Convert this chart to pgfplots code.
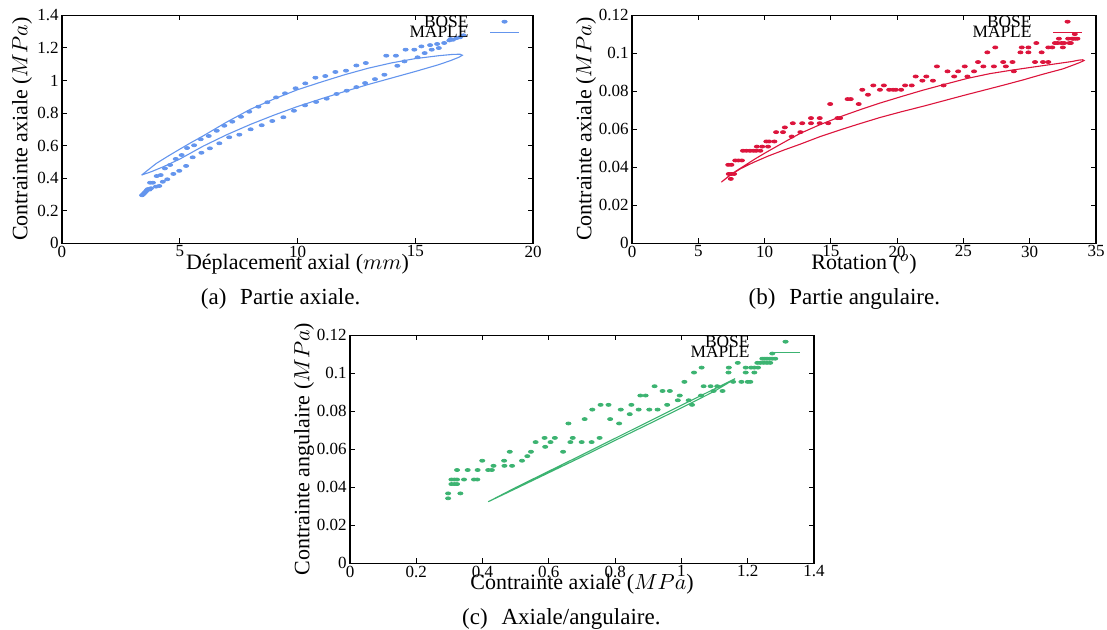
\documentclass[border=0pt]{standalone}
\usepackage{pgfplots}
\pgfplotsset{compat=1.18}
\usepackage{fontspec}
\setmainfont{Liberation Serif}
\definecolor{cA}{RGB}{100,149,237}
\definecolor{cB}{RGB}{220,20,60}
\definecolor{cC}{RGB}{60,179,113}
\pgfplotsset{
  myaxis/.style={
    scale only axis, height=114pt,
    axis line style={line width=0.75pt, black},
    tick align=inside, tick pos=both,
    major tick length=2.5pt,
    tick style={line width=0.5pt, black},
    /pgf/number format/assume math mode=true,
    scaled ticks=false,
    xticklabel style={font=\fontsize{8.5}{9}\selectfont, inner sep=1pt, /pgf/number format/fixed},
    yticklabel style={font=\fontsize{8.5}{9}\selectfont, inner sep=1.5pt, /pgf/number format/fixed, /pgf/number format/precision=2},
    every axis x label/.style={at={([yshift=-10.5pt]axis description cs:0.5,0)}, anchor=center, font=\fontsize{11}{12}\selectfont},
    legend style={draw=none, fill=none, at={(1,1)}, anchor=north east, xshift=-6.5pt, yshift=-0.3pt, inner sep=0pt, font=\fontsize{8.7}{8.7}\selectfont, row sep=0pt, nodes={text height=5.4pt, text depth=0pt, inner sep=0pt}},
    legend plot pos=right, legend cell align=right,
  },
  ylab/.style={every axis y label/.style={at={([xshift=-#1]axis description cs:0,0.5)}, rotate=90, anchor=center, font=\fontsize{11}{12}\selectfont}},
  bose/.style={only marks, mark=*, mark size=0.75pt, mark options={xscale=1.7, draw=none, fill=#1}, color=#1,
    legend image code/.code={\path (0pt,0pt) (25pt,0pt); \fill[#1] (17.75pt,0pt) ellipse [x radius=1.3pt, y radius=0.75pt];}},
  maple/.style={color=#1, line width=0.55pt, no marks,
    legend image code/.code={\path (0pt,0pt); \draw[#1, line width=0.55pt] (10.5pt,0pt) -- (25pt,0pt);}},
}
\begin{document}
\begin{tikzpicture}
\path[use as bounding box] (0,0) rectangle (553.5pt,314.5pt);
% ---------------- (a)
\begin{axis}[myaxis, ylab=20pt, width=235.5pt, at={(31pt,192.85pt)}, anchor=south west,
  xmin=0, xmax=20, ymin=0, ymax=1.4,
  xtick={0,5,10,15,20}, ytick={0,0.2,0.4,0.6,0.8,1,1.2,1.4},
  xlabel={Déplacement axial ($mm$)}, ylabel={Contrainte axiale ($MPa$)}]
\addplot[bose=cA] coordinates {
(3.40,0.295) (3.44,0.300) (3.48,0.306) (3.52,0.312) (3.56,0.318) (3.60,0.326) (3.65,0.333) (3.72,0.330) (3.78,0.338)
(3.74,0.372) (3.86,0.372) (3.99,0.348) (4.13,0.352) (4.02,0.413) (4.19,0.419) (4.28,0.378) (4.47,0.393)
(4.37,0.460) (4.59,0.481) (4.73,0.426) (4.98,0.445) (4.83,0.518) (5.08,0.542) (5.27,0.475) (5.31,0.585)
(5.55,0.528) (5.61,0.602) (5.92,0.556) (5.89,0.639) (6.23,0.659) (6.28,0.583) (6.57,0.691) (6.68,0.614)
(6.89,0.722) (7.10,0.651) (7.23,0.747) (7.53,0.667) (7.60,0.777) (8.01,0.700) (7.95,0.808) (8.34,0.839)
(8.48,0.725) (8.72,0.866) (8.93,0.751) (9.09,0.896) (9.40,0.774) (9.47,0.921) (9.85,0.814) (9.92,0.952)
(10.32,0.847) (10.33,0.982) (10.76,1.017) (10.79,0.868) (11.18,1.027) (11.24,0.888) (11.61,1.052) (11.66,0.917)
(12.06,1.060) (12.09,0.937) (12.50,1.092) (12.50,0.959) (12.90,1.107) (12.87,0.984) (13.29,1.008) (13.69,1.035)
(13.77,1.152) (14.18,1.152) (14.24,1.090) (14.54,1.117) (14.59,1.189) (14.96,1.189) (15.10,1.142) (15.26,1.209)
(15.40,1.168) (15.63,1.217) (15.70,1.189) (15.93,1.224) (16.00,1.199) (16.23,1.230) (16.45,1.246) (16.50,1.254)
(16.60,1.250) (16.75,1.260) (16.90,1.265) (17.05,1.277)
};
\addlegendentry{BOSE}
\addplot[maple=cA] coordinates {
(3.38,0.419) (4.0,0.49) (4.5,0.535) (5.0,0.578) (5.5,0.62) (6.0,0.66) (7.0,0.745) (8.0,0.823) (9.0,0.886)
(10.0,0.943) (11.0,0.99) (12.0,1.035) (13.0,1.075) (14.0,1.108) (15.0,1.134) (16.0,1.152) (16.6,1.160) (16.9,1.161) (17.0,1.155)
(16.85,1.142) (16.5,1.122) (16.0,1.097) (15.0,1.055) (14.0,1.015) (13.0,0.975) (12.0,0.932) (11.0,0.887) (10.0,0.84)
(9.0,0.787) (8.0,0.73) (7.0,0.667) (6.0,0.597) (5.0,0.517) (4.3,0.47) (3.8,0.44) (3.38,0.419)
};
\addlegendentry{MAPLE}
\end{axis}
% ---------------- (b)
\begin{axis}[myaxis, ylab=23pt, width=232pt, at={(316pt,192.85pt)}, anchor=south west,
  xmin=0, xmax=35, ymin=0, ymax=0.12,
  xtick={0,5,10,15,20,25,30,35}, ytick={0,0.02,0.04,0.06,0.08,0.1,0.12},
  xlabel={Rotation ($^o$)}, ylabel={Contrainte axiale ($MPa$)}]
\addplot[bose=cB] coordinates {
(7.45,0.0339) (7.30,0.0365) (7.50,0.0365) (7.70,0.0365) (7.26,0.0413) (7.50,0.0413) (7.79,0.0436) (8.03,0.0436) (8.29,0.0436)
(8.37,0.0487) (8.63,0.0487) (8.90,0.0487) (9.16,0.0487) (9.37,0.0487) (9.68,0.0487) (9.42,0.0509) (9.82,0.0509) (10.26,0.0509)
(10.13,0.0536) (10.34,0.0536) (10.74,0.0536) (10.87,0.0585) (11.39,0.0585) (11.53,0.0610) (12.05,0.0562) (12.13,0.0632)
(12.84,0.0632) (12.70,0.0585) (13.50,0.0659) (14.16,0.0659) (13.50,0.0632) (14.16,0.0632) (14.80,0.0632) (14.95,0.0733)
(15.50,0.0659) (15.70,0.0659) (16.26,0.0759) (16.50,0.0759) (17.10,0.0733) (17.37,0.0808) (17.80,0.0782) (18.20,0.0831)
(18.70,0.0808) (19.00,0.0831) (19.40,0.0808) (19.70,0.0808) (19.90,0.0808) (20.30,0.0808) (20.60,0.0831) (21.10,0.0831)
(21.40,0.0878) (21.90,0.0856) (22.20,0.0878) (22.70,0.0856) (23.00,0.0931) (23.50,0.0831) (23.80,0.0905) (24.30,0.0878)
(24.60,0.0905) (25.10,0.0931) (25.30,0.0878) (25.80,0.0905) (26.10,0.0954) (26.50,0.0931) (26.80,0.1005) (27.30,0.0931)
(27.40,0.1031) (28.00,0.0954) (28.20,0.0931) (28.70,0.0954) (28.80,0.0905) (29.30,0.1005) (29.40,0.1031) (29.90,0.1031)
(29.90,0.1005) (30.40,0.0954) (30.50,0.1054) (30.90,0.1005) (31.00,0.0954) (31.40,0.0954) (31.40,0.1031) (31.70,0.1031)
(31.90,0.1054) (32.10,0.1054) (32.20,0.1077) (32.40,0.1054) (32.50,0.1031) (32.60,0.1054) (32.90,0.1077) (33.10,0.1054)
(33.20,0.1077) (33.30,0.1077) (33.45,0.1077) (33.60,0.1077) (33.40,0.1101) (33.00,0.1054)
};
\addlegendentry{BOSE}
\addplot[maple=cB] coordinates {
(6.74,0.0322) (7.5,0.0365) (8.4,0.0405) (9.3,0.0445) (10.2,0.0482) (11.5,0.0533) (12.7,0.0579) (14.2,0.0625) (15.7,0.0666)
(17.2,0.0703) (18.7,0.0738) (20.3,0.0772) (21.9,0.0805) (23.6,0.0837) (25.3,0.0868) (27.0,0.0893) (28.7,0.0912) (30.4,0.0929)
(32.0,0.0945) (33.2,0.0957) (33.7,0.0964) (34.0,0.0966) (34.1,0.0962)
(33.8,0.0952) (33.2,0.0936) (32.5,0.0918) (31.0,0.0890) (29.5,0.0860) (28.0,0.0832) (26.5,0.0805) (25.0,0.0778) (23.5,0.0750) (22.0,0.0722)
(20.3,0.0692) (18.7,0.0662) (17.2,0.0630) (15.7,0.0597) (14.2,0.0562) (12.7,0.0522) (11.5,0.0492) (10.3,0.0460) (9.2,0.0427)
(8.2,0.0393) (7.4,0.0358) (6.74,0.0322)
};
\addlegendentry{MAPLE}
\end{axis}
% ---------------- (c)
\begin{axis}[myaxis, ylab=23pt, width=232pt, at={(175pt,32.85pt)}, anchor=south west,
  xmin=0, xmax=1.4, ymin=0, ymax=0.12,
  xtick={0,0.2,0.4,0.6,0.8,1,1.2,1.4}, ytick={0,0.02,0.04,0.06,0.08,0.1,0.12},
  xlabel={Contrainte axiale ($MPa$)}, ylabel={Contrainte angulaire ($MPa$)}]
\addplot[bose=cC] coordinates {
(0.296,0.0342) (0.296,0.0368) (0.333,0.0368) (0.306,0.0417) (0.315,0.0417) (0.323,0.0417) (0.306,0.0441) (0.315,0.0441)
(0.323,0.0441) (0.344,0.0441) (0.323,0.0491) (0.355,0.0491) (0.374,0.0441) (0.384,0.0441) (0.385,0.0491) (0.399,0.0540)
(0.417,0.0491) (0.428,0.0491) (0.433,0.0513) (0.465,0.0540) (0.466,0.0513) (0.482,0.0587) (0.489,0.0513) (0.519,0.0540)
(0.535,0.0564) (0.546,0.0587) (0.560,0.0638) (0.587,0.0660) (0.589,0.0613) (0.605,0.0638) (0.618,0.0660) (0.643,0.0587)
(0.659,0.0736) (0.665,0.0638) (0.672,0.0660) (0.699,0.0638) (0.708,0.0759) (0.729,0.0638) (0.731,0.0809) (0.753,0.0660)
(0.756,0.0834) (0.780,0.0834) (0.785,0.0759) (0.812,0.0736) (0.817,0.0809) (0.844,0.0785) (0.849,0.0834) (0.871,0.0809)
(0.876,0.0883) (0.892,0.0883) (0.903,0.0809) (0.919,0.0932) (0.928,0.0809) (0.943,0.0907) (0.965,0.0907) (0.957,0.0834)
(0.989,0.0858) (0.995,0.0883) (1.009,0.0955) (1.022,0.0858) (1.032,0.0834) (1.038,0.1004) (1.061,0.1030) (1.059,0.0883)
(1.067,0.0932) (1.088,0.0932) (1.097,0.0907) (1.108,0.0932) (1.124,0.0907) (1.142,0.1004) (1.143,0.1030) (1.156,0.0955)
(1.170,0.1055) (1.181,0.0955) (1.194,0.1030) (1.194,0.1004) (1.200,0.0955) (1.208,0.0955) (1.210,0.1030) (1.220,0.1030)
(1.220,0.1004) (1.229,0.1055) (1.231,0.1030) (1.244,0.1077) (1.251,0.1077) (1.258,0.1077) (1.266,0.1077) (1.274,0.1077)
(1.283,0.1077) (1.238,0.1055) (1.248,0.1055) (1.258,0.1055) (1.268,0.1055) (1.274,0.1104)
};
\addlegendentry{BOSE}
\addplot[maple=cC] coordinates {
(0.417,0.0324) (0.5,0.0399) (0.6,0.0485) (0.7,0.0571) (0.8,0.0658) (0.9,0.0745) (1.0,0.0832) (1.1,0.0918) (1.162,0.0972)
(1.155,0.0964) (1.1,0.0906) (1.0,0.0818) (0.9,0.0732) (0.8,0.0647) (0.7,0.0561) (0.6,0.0477) (0.5,0.0393) (0.417,0.0324)
};
\addlegendentry{MAPLE}
\end{axis}
% ---------------- captions
\node[anchor=base, font=\fontsize{11.5}{13}\selectfont] at (140.3pt,162.5pt) {(a)\hspace{0.6em}Partie axiale.};
\node[anchor=base, font=\fontsize{11.5}{13}\selectfont] at (422.2pt,162.5pt) {(b)\hspace{0.6em}Partie angulaire.};
\node[anchor=base, font=\fontsize{11.5}{13}\selectfont] at (280.7pt,2.5pt) {(c)\hspace{0.6em}Axiale/angulaire.};
\end{tikzpicture}
\end{document}
